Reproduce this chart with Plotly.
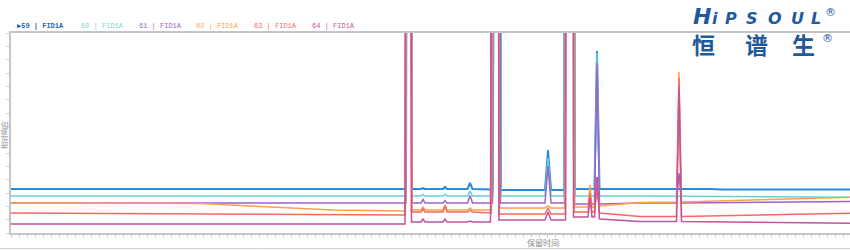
import plotly.graph_objects as go

# ---- data (retention time in min, relative response) ----
series_names = ["59", "60", "61", "62", "63", "64"]
detector = "FID1A"

rt_59 = [0, 19.7, 19.75, 19.8, 20.0, 20.05, 20.5, 20.6, 20.7, 21.6, 21.7, 21.8, 22.825, 22.95, 23.075,
         24.1, 24.15, 24.45, 24.5, 26.7, 26.85, 27.0, 27.65, 27.7, 28.15, 28.2, 29.175, 29.3, 29.425,
         34.95, 35.6, 41.95]
sig_59 = [22, 22, 22, 300, 300, 22, 22, 22.4, 22, 22, 23, 22, 22, 25, 22,
          21.8, 300, 300, 21.5, 21.5, 41.5, 21.5, 21.5, 300, 300, 22, 22, 91, 22,
          22, 21.7, 21.7]

rt_60 = [0, 19.75, 19.8, 20.0, 20.05, 20.5, 20.6, 20.7, 21.6, 21.7, 21.8, 22.825, 22.95, 23.075,
         24.1, 24.15, 24.45, 24.5, 26.7, 26.85, 27.0, 27.65, 27.7, 28.15, 28.2, 29.175, 29.3, 29.425,
         31.45, 41.95]
sig_60 = [18.5, 18.5, 300, 300, 18.5, 18.5, 19.3, 18.5, 18.5, 19.3, 18.5, 18.5, 21, 18.5,
          18.5, 300, 300, 18.5, 18.5, 37.5, 18.5, 18.5, 300, 300, 18.5, 18.5, 90, 18.5,
          18.5, 17.9]

rt_61 = [0, 19.75, 19.8, 20.0, 20.05, 20.5, 20.6, 20.7, 21.6, 21.7, 21.8, 22.825, 22.95, 23.075,
         24.075, 24.125, 24.425, 24.475, 26.7, 26.85, 27.0, 27.675, 27.725, 28.125, 28.175,
         29.175, 29.3, 29.425, 31.45, 33.275, 33.4, 33.525, 41.95]
sig_61 = [15, 15, 300, 300, 15, 15, 16.7, 15, 15, 16.2, 15, 15, 18.7, 15,
          15, 300, 300, 15, 15, 33.5, 15, 15, 300, 300, 14.5,
          14.5, 85, 14.5, 15, 15, 30, 15, 15.7]

rt_62 = [0, 9.45, 16.1, 19.45, 19.725, 19.775, 20.0, 20.05, 20.5, 20.6, 20.7, 21.6, 21.7, 21.8,
         22.825, 22.95, 23.075, 24.025, 24.075, 24.375, 24.425, 26.7, 26.85, 27.0, 27.7, 27.75,
         28.125, 28.175, 28.85, 28.95, 29.05, 29.175, 29.3, 29.425, 31.45, 33.275, 33.4, 33.525, 41.95]
sig_62 = [15, 14.8, 11.5, 11, 11, 300, 300, 11.5, 11.5, 13, 11.5, 11.5, 14, 11.5,
          11.5, 12.5, 11.5, 11.5, 300, 300, 12.5, 12.5, 13.5, 12.5, 12.5, 300,
          300, 13, 13, 24, 13, 13, 20, 13.5, 15.2, 15.5, 80.5, 15.5, 17.9]

rt_63 = [0, 19.45, 19.7, 19.75, 19.975, 20.025, 20.5, 20.6, 20.7, 21.6, 21.7, 21.8, 22.825, 22.95,
         23.075, 24.0, 24.05, 24.35, 24.4, 26.7, 26.85, 27.0, 27.725, 27.775, 28.1, 28.15, 28.85,
         28.95, 29.05, 29.175, 29.3, 29.425, 31.45, 33.275, 33.4, 33.525, 41.95]
sig_63 = [10, 9.2, 9, 300, 300, 10.5, 10.5, 12, 10.5, 10.5, 13.5, 10.5, 10.5, 11.5,
          10.5, 10, 300, 300, 9.5, 9.5, 12.5, 9.5, 9.5, 300, 300, 10.5, 10.5,
          20, 10.5, 10.5, 28, 10, 8.2, 8.2, 77.5, 8.2, 9.9]

rt_64 = [0, 19.45, 19.7, 19.75, 19.975, 20.025, 20.5, 20.6, 20.7, 21.6, 21.7, 21.8, 22.825, 22.95,
         23.075, 23.975, 24.025, 24.35, 24.4, 26.7, 26.85, 27.0, 27.725, 27.775, 28.075, 28.125,
         28.85, 28.95, 29.05, 29.175, 29.3, 29.425, 31.45, 33.275, 33.4, 33.525, 41.95]
sig_64 = [4.5, 4.4, 4.5, 300, 300, 5.5, 5.5, 7, 5.5, 5.5, 7, 5.5, 5.5, 6,
          5.5, 5.5, 300, 300, 6.5, 6.5, 10.5, 6.5, 6.5, 300, 300, 8,
          8, 17.5, 8, 8, 28, 7, 5.7, 5.7, 73, 5.7, 4.9]

rts = [rt_59, rt_60, rt_61, rt_62, rt_63, rt_64]
sigs = [sig_59, sig_60, sig_61, sig_62, sig_63, sig_64]

line_colors = ["#2b8bd6", "#66d2d2", "#9b63c9", "#ffa04a", "#f56a5f", "#c4529d"]
label_colors = ["#1c64b4", "#7ed4d4", "#9b63c9", "#ffa04a", "#f56a5f", "#c4529d"]
line_widths = [2, 1.5, 1.5, 1.5, 1.5, 1.5]

W, H = 850, 250
ML, MR, MT, MB = 11, 0, 33, 17
PW, PH = W - ML - MR, H - MT - MB


def xp(px):
    return (px - ML) / PW


def yp(py):
    return (H - MB - py) / PH


fig = go.Figure()
for name, x, y, c, w in zip(series_names, rts, sigs, line_colors, line_widths):
    fig.add_trace(go.Scatter(x=x, y=y, mode="lines", name=name,
                             line=dict(color=c, width=w), hoverinfo="skip",
                             showlegend=False))

ann = []
# custom legend row
leg_px = [15, 79, 137, 194, 252, 310]
for i, (name, c, px) in enumerate(zip(series_names, label_colors, leg_px)):
    txt = f"{name} | {detector}"
    if i == 0:
        txt = "<b>▶" + txt + "</b>"
    ann.append(dict(text=txt, x=xp(px), y=yp(26), xref="paper", yref="paper",
                    xanchor="left", yanchor="middle", showarrow=False,
                    font=dict(family="Liberation Mono, monospace", size=7, color=c)))

# axis titles
ann.append(dict(text="相对响应", x=xp(4), y=yp(135), xref="paper", yref="paper",
                textangle=-90, showarrow=False, xanchor="center", yanchor="middle",
                font=dict(family="Noto Sans CJK SC", size=7, color="#8a8a8a")))
ann.append(dict(text="保留时间", x=xp(543), y=yp(242), xref="paper", yref="paper",
                showarrow=False, xanchor="center", yanchor="middle",
                font=dict(family="Noto Sans CJK SC", size=8, color="#8a8a8a")))

# logo
logo = "#1f5a9e"
ann.append(dict(text="<b><i>H</i></b>", x=xp(702), y=yp(16.5), xref="paper", yref="paper",
                showarrow=False, xanchor="center", yanchor="middle",
                font=dict(family="DejaVu Sans", size=22, color=logo)))
for ch, cx in zip(["i", "P", "S", "O", "U", "L"], [715, 731, 752, 775, 797, 816]):
    ann.append(dict(text=f"<b><i>{ch}</i></b>", x=xp(cx), y=yp(19), xref="paper", yref="paper",
                    showarrow=False, xanchor="center", yanchor="middle",
                    font=dict(family="DejaVu Sans", size=16, color=logo)))
ann.append(dict(text="®", x=xp(830), y=yp(12), xref="paper", yref="paper",
                showarrow=False, xanchor="center", yanchor="middle",
                font=dict(family="DejaVu Sans", size=11, color=logo)))
for ch, cx in zip(["恒", "谱", "生"], [703, 756, 803]):
    ann.append(dict(text=f"<b>{ch}</b>", x=xp(cx), y=yp(44), xref="paper", yref="paper",
                    showarrow=False, xanchor="center", yanchor="middle",
                    font=dict(family="Noto Sans CJK SC", size=23, color=logo)))
ann.append(dict(text="®", x=xp(827), y=yp(38), xref="paper", yref="paper",
                showarrow=False, xanchor="center", yanchor="middle",
                font=dict(family="DejaVu Sans", size=11, color=logo)))

fig.update_layout(
    width=W, height=H,
    margin=dict(l=ML, r=MR, t=MT, b=MB, pad=0),
    paper_bgcolor="white", plot_bgcolor="white",
    hovermode=False,
    annotations=ann,
    shapes=[dict(type="line", xref="paper", yref="paper", x0=xp(0), x1=1,
                 y0=yp(248.5), y1=yp(248.5), line=dict(color="#cfcfcf", width=1))],
    xaxis=dict(range=[0, 41.95], showgrid=False, zeroline=False, showticklabels=False,
               showline=True, linecolor="#c4c4cc", linewidth=1.5, mirror=True,
               ticks="outside", ticklen=3, tickcolor="#d0d0d0", tick0=0, dtick=0.4),
    yaxis=dict(range=[0, 100], showgrid=False, zeroline=False, showticklabels=False,
               showline=True, linecolor="#c4c4cc", linewidth=1.5,
               ticks="outside", ticklen=3, tickcolor="#d0d0d0", tick0=0, dtick=100 / 15),
)

fig.write_html("out.html")
